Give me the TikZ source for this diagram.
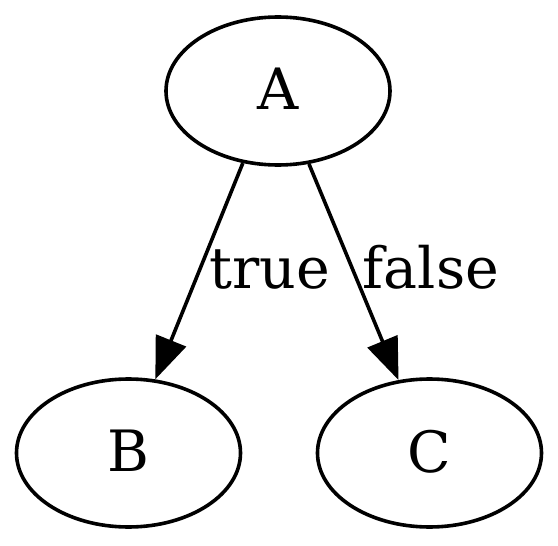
\documentclass[tikz,border=0pt]{standalone}
\usepackage{fontspec}
\setmainfont{DejaVu Serif}
\usetikzlibrary{shapes.geometric,arrows.meta}
\begin{document}
\begin{tikzpicture}[x=1pt,y=-1pt,
  gnode/.style={draw, ellipse, line width=3.6pt, minimum width=224pt, minimum height=148pt, inner sep=0pt, font=\fontsize{57}{68}\selectfont},
  garrow/.style={line width=3.6pt, -{Triangle[length=42pt,width=32pt]}},
  elabel/.style={anchor=base, inner sep=0pt, font=\fontsize{57}{68}\selectfont}]
\useasboundingbox (0,0) rectangle (558,546);
\node[gnode] (A) at (278,91) {\raisebox{5pt}{A}};
\node[gnode] (B) at (128.5,453) {\raisebox{4pt}{B}};
\node[gnode] (C) at (429.5,453) {\raisebox{4pt}{C}};
\draw[garrow] (A.244.1) -- (B.70.2);
\draw[garrow] (A.293.7) -- (C.113.2);
\node[elabel] (lt) at (270,288) {true};
\node[elabel] (lf) at (431,288) {false};
\end{tikzpicture}
\end{document}
